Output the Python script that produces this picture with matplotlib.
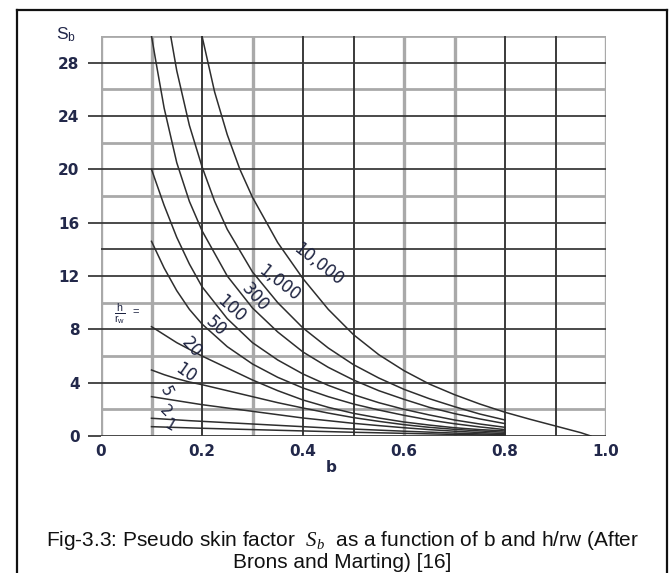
import numpy as np
import matplotlib
matplotlib.use("Agg")
import matplotlib.pyplot as plt
from matplotlib.lines import Line2D

plt.rcParams["font.family"] = "Liberation Sans"
plt.rcParams["mathtext.fontset"] = "custom"
plt.rcParams["mathtext.rm"] = "Liberation Sans"
plt.rcParams["mathtext.it"] = "Liberation Serif:italic"

# ---- curves: b values and S_b values per h/rw ----
b_10000 = [0.2, 0.225, 0.25, 0.275, 0.3, 0.35, 0.4, 0.45, 0.5, 0.55, 0.6, 0.65, 0.7, 0.75, 0.8, 0.85, 0.9, 0.95, 0.97]
s_10000 = [30, 25.8, 22.6, 20.0, 17.9, 14.5, 11.8, 9.5, 7.6, 6.1, 4.9, 3.9, 3.1, 2.4, 1.78, 1.25, 0.75, 0.25, 0.0]

b_1000 = [0.138, 0.15, 0.175, 0.2, 0.225, 0.25, 0.3, 0.35, 0.4, 0.45, 0.5, 0.55, 0.6, 0.65, 0.7, 0.75, 0.8]
s_1000 = [30, 27.4, 23.3, 20.2, 17.6, 15.5, 12.3, 10.0, 8.1, 6.6, 5.35, 4.35, 3.5, 2.8, 2.2, 1.65, 1.2]

b_300 = [0.1, 0.11, 0.125, 0.15, 0.175, 0.2, 0.25, 0.3, 0.35, 0.4, 0.45, 0.5, 0.55, 0.6, 0.65, 0.7, 0.75, 0.8]
s_300 = [30, 27.8, 24.6, 20.5, 17.6, 15.4, 12.0, 9.6, 7.8, 6.3, 5.15, 4.2, 3.4, 2.75, 2.15, 1.68, 1.28, 0.93]

b_std = [0.1, 0.125, 0.15, 0.175, 0.2, 0.25, 0.3, 0.35, 0.4, 0.45, 0.5, 0.55, 0.6, 0.65, 0.7, 0.75, 0.8]
s_100 = [20, 17.3, 14.9, 12.9, 11.2, 8.8, 7.0, 5.7, 4.65, 3.8, 3.1, 2.5, 2.0, 1.58, 1.2, 0.9, 0.65]
s_50 = [14.6, 12.6, 10.9, 9.5, 8.4, 6.7, 5.4, 4.4, 3.6, 2.95, 2.4, 1.95, 1.55, 1.2, 0.92, 0.68, 0.48]
s_20 = [8.2, 7.6, 7.0, 6.5, 6.0, 5.1, 4.2, 3.4, 2.7, 2.15, 1.7, 1.35, 1.05, 0.82, 0.62, 0.48, 0.38]
s_10 = [4.95, 4.6, 4.3, 4.05, 3.85, 3.4, 2.95, 2.5, 2.1, 1.72, 1.38, 1.1, 0.85, 0.65, 0.5, 0.38, 0.28]
s_5 = [2.95, 2.8, 2.65, 2.5, 2.35, 2.1, 1.85, 1.6, 1.35, 1.15, 0.95, 0.78, 0.62, 0.48, 0.36, 0.26, 0.18]
s_2 = [1.33, 1.27, 1.21, 1.15, 1.1, 1.0, 0.9, 0.8, 0.7, 0.6, 0.52, 0.44, 0.36, 0.29, 0.22, 0.16, 0.1]
s_1 = [0.7, 0.67, 0.64, 0.61, 0.58, 0.53, 0.48, 0.43, 0.38, 0.33, 0.28, 0.24, 0.2, 0.16, 0.12, 0.08, 0.05]

curves = [
    (b_10000, s_10000), (b_1000, s_1000), (b_300, s_300),
    (b_std, s_100), (b_std, s_50), (b_std, s_20),
    (b_std, s_10), (b_std, s_5), (b_std, s_2), (b_std, s_1),
]

# curve labels: text, b, S, rotation
curve_labels = [
    ("10,000", 0.430, 12.9, -38),
    ("1,000", 0.353, 11.5, -38),
    ("300", 0.304, 10.4, -48),
    ("100", 0.258, 9.5, -42),
    ("50", 0.227, 8.2, -42),
    ("20", 0.180, 6.6, -48),
    ("10", 0.168, 4.75, -35),
    ("5", 0.128, 3.35, -65),
    ("2", 0.128, 1.85, -45),
    ("1", 0.136, 0.8, -30),
]

x_dark = [0.2, 0.4, 0.5, 0.8, 0.9]
x_gray = [0.0, 0.1, 0.3, 0.6, 0.7, 1.0]
y_dark = [0, 4, 8, 12, 14, 16, 20, 24, 28]
y_gray = [2, 6, 10, 18, 22, 26, 30]

xticks = [0, 0.2, 0.4, 0.6, 0.8, 1.0]
xtick_labels = ["0", "0.2", "0.4", "0.6", "0.8", "1.0"]
yticks = [0, 4, 8, 12, 16, 20, 24, 28]

W, H = 669, 573
fig = plt.figure(figsize=(W / 100, H / 100), dpi=100)
ax = fig.add_axes([101 / W, 1 - 436 / H, 505 / W, 400 / H])
ax.set_xlim(0, 1.0)
ax.set_ylim(0, 30)
for s in ax.spines.values():
    s.set_visible(False)

dark = "#3a3a3a"
gray = "#a9a9a9"
for xv in x_gray:
    ax.axvline(xv, color=gray, lw=2.4, zorder=1)
for yv in y_gray:
    ax.axhline(yv, color=gray, lw=2.0, zorder=1)
for xv in x_dark:
    ax.axvline(xv, color=dark, lw=1.4, zorder=2)
for yv in y_dark:
    ax.axhline(yv, color=dark, lw=1.3, zorder=2)

for bx, sy in curves:
    ax.plot(bx, sy, color="#2e2e2e", lw=1.1, zorder=3, clip_on=True)

lab_color = "#1c2240"
for txt, bx, sy, rot in curve_labels:
    ax.text(bx, sy, txt, rotation=rot, ha="center", va="center",
            fontsize=12 if len(txt) > 1 else 11, family="DejaVu Sans",
            color=lab_color, zorder=4, rotation_mode="anchor")

ax.text(0.037, 9.1, r"$\frac{\mathrm{h}}{\mathrm{r_w}}$", fontsize=11,
        color=lab_color, ha="center", va="center")
ax.text(0.068, 9.3, "=", fontsize=8, color=lab_color, ha="center", va="center")

tick_color = "#22284a"
ax.set_yticks(yticks)
ax.set_yticklabels([str(v) for v in yticks], fontweight="bold", fontsize=11,
                   color=tick_color, family="DejaVu Sans")
ax.tick_params(axis="y", length=9.5, width=1.3, color=dark, pad=6)
ax.set_xticks(xticks)
ax.set_xticklabels(xtick_labels, fontweight="bold", fontsize=11, color=tick_color,
                   family="DejaVu Sans")
ax.tick_params(axis="x", length=0, pad=6)

fig.text(66 / W, 1 - 35 / H, r"$\mathrm{S}_\mathrm{b}$", fontsize=12.5,
         color=tick_color, ha="center", va="center")
fig.text(331 / W, 1 - 468 / H, "b", fontsize=11, fontweight="bold",
         color=tick_color, ha="center", va="center", family="DejaVu Sans")

# caption
fig.text(0.512, 1 - 540 / H,
         r"Fig-3.3: Pseudo skin factor  $S_b$  as a function of b and h/rw (After",
         fontsize=15, ha="center", va="center", color="#111111")
fig.text(0.512, 1 - 563 / H, "Brons and Marting) [16]",
         fontsize=15, ha="center", va="center", color="#111111")

# outer frame
fx0, fx1, fy1 = 17 / W, 667 / W, 1 - 10 / H
for xs, ys in [([fx0, fx0], [0, fy1]), ([fx1, fx1], [0, fy1]), ([fx0, fx1], [fy1, fy1])]:
    fig.add_artist(Line2D(xs, ys, color="#111111", lw=1.6, transform=fig.transFigure))

fig.savefig("out.png", dpi=100)
